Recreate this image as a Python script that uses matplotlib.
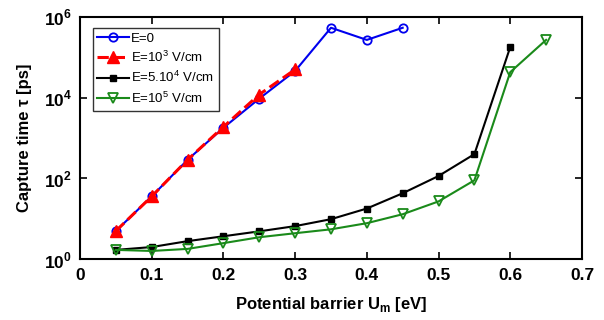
import matplotlib

matplotlib.use("Agg")

import matplotlib.pyplot as plt  # noqa: E402
from matplotlib.ticker import FixedLocator, NullLocator  # noqa: E402

plt.rcParams["font.family"] = ["Liberation Sans", "DejaVu Sans"]
plt.rcParams["mathtext.fontset"] = "custom"
plt.rcParams["mathtext.rm"] = "Liberation Sans"
plt.rcParams["mathtext.bf"] = "Liberation Sans:bold"

# barrier heights [eV] and capture times [ps]
u_e0 = [0.05, 0.10, 0.15, 0.20, 0.25, 0.30, 0.35, 0.40, 0.45]
tau_e0 = [5.0, 36, 290, 1800, 9500, 46000, 5.4e5, 2.7e5, 5.4e5]

u_e3 = [0.05, 0.10, 0.15, 0.20, 0.25, 0.30]
tau_e3 = [5.0, 36, 290, 1900, 12000, 50000]

u_e54 = [0.05, 0.10, 0.15, 0.20, 0.25, 0.30, 0.35, 0.40, 0.45, 0.50, 0.55, 0.60]
tau_e54 = [1.7, 2.0, 2.8, 3.7, 4.9, 6.6, 9.8, 18, 43, 115, 400, 1.8e5]

u_e5 = [0.05, 0.10, 0.15, 0.20, 0.25, 0.30, 0.35, 0.40, 0.45, 0.50, 0.55, 0.60, 0.65]
tau_e5 = [1.7, 1.6, 1.8, 2.5, 3.5, 4.4, 5.5, 7.8, 13, 27, 90, 4.3e4, 2.7e5]

labels = ["E=0", "E=10$^3$ V/cm", "E=5.10$^4$ V/cm", "E=10$^5$ V/cm"]

fig = plt.figure(figsize=(6.04, 3.2), dpi=100)
ax = fig.add_axes([0.1325, 0.19, 0.831, 0.757])

ax.plot(u_e0, tau_e0, "-o", color="#0000ee", mfc="none", ms=6, lw=1.5,
        mew=1.3, label=labels[0])
ax.plot(u_e3, tau_e3, "--^", color="#ff0000", ms=9, lw=2.2, label=labels[1])
ax.plot(u_e54, tau_e54, "-s", color="black", ms=4.5, lw=1.5, label=labels[2])
ax.plot(u_e5, tau_e5, "-v", color="#1a8a1a", mfc="none", ms=7, lw=1.5,
        mew=1.3, label=labels[3])

ax.set_yscale("log")
ax.set_xlim(0, 0.7)
ax.set_ylim(1, 1e6)
ax.yaxis.set_major_locator(FixedLocator([1, 1e2, 1e4, 1e6]))
ax.yaxis.set_minor_locator(NullLocator())
ax.set_yticklabels(["10$^\\mathbf{0}$", "10$^\\mathbf{2}$", "10$^\\mathbf{4}$", "10$^\\mathbf{6}$"])
ax.set_xticks([0, 0.1, 0.2, 0.3, 0.4, 0.5, 0.6, 0.7])
ax.set_xticklabels(["0", "0.1", "0.2", "0.3", "0.4", "0.5", "0.6", "0.7"])

ax.tick_params(direction="in", top=True, right=True, length=5, width=1.2,
               labelsize=12.5, pad=6)
for lab in ax.get_xticklabels() + ax.get_yticklabels():
    lab.set_fontweight("bold")
for sp in ax.spines.values():
    sp.set_linewidth(1.5)

ax.set_xlabel("Potential barrier U$_\\mathbf{m}$ [eV]", fontsize=12,
              fontweight="bold", labelpad=9)
ax.set_ylabel("Capture time \u03c4 [ps]", fontsize=12, fontweight="bold",
              labelpad=8)

leg = ax.legend(loc="upper left", fontsize=9.5, handlelength=2.4,
                handletextpad=0.15, borderpad=0.35, labelspacing=0.4,
                fancybox=False, bbox_to_anchor=(0.012, 0.983))
leg.get_frame().set_edgecolor("black")
leg.get_frame().set_linewidth(1.0)

fig.savefig("out.png", dpi=100)
